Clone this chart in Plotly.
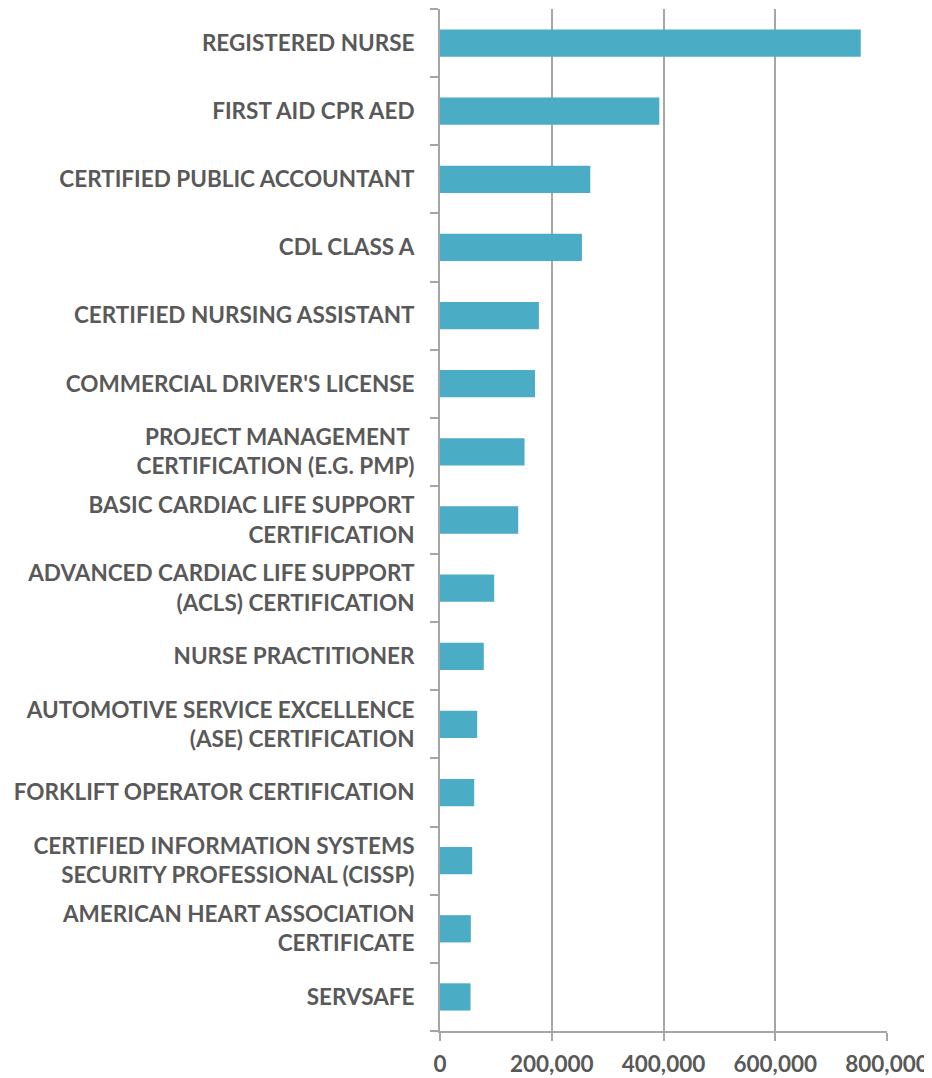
import plotly.graph_objects as go

categories = [
    "REGISTERED NURSE",
    "FIRST AID CPR AED",
    "CERTIFIED PUBLIC ACCOUNTANT",
    "CDL CLASS A",
    "CERTIFIED NURSING ASSISTANT",
    "COMMERCIAL DRIVER'S LICENSE",
    "PROJECT MANAGEMENT\u00a0<br>CERTIFICATION (E.G. PMP)",
    "BASIC CARDIAC LIFE SUPPORT<br>CERTIFICATION",
    "ADVANCED CARDIAC LIFE SUPPORT<br>(ACLS) CERTIFICATION",
    "NURSE PRACTITIONER",
    "AUTOMOTIVE SERVICE EXCELLENCE<br>(ASE) CERTIFICATION",
    "FORKLIFT OPERATOR CERTIFICATION",
    "CERTIFIED INFORMATION SYSTEMS<br>SECURITY PROFESSIONAL (CISSP)",
    "AMERICAN HEART ASSOCIATION<br>CERTIFICATE",
    "SERVSAFE",
]
values = [753000, 392500, 269000, 254000, 177000, 170000, 151300, 140000,
          97000, 78400, 66600, 61200, 57600, 55200, 54600]

x_tickvals = [0, 200000, 400000, 600000, 800000]
x_ticktext = ["0", "200,000", "400,000", "600,000", "800,000"]

font_family = "Lato, 'Open Sans', sans-serif"
text_color = "#595959"
grid_color = "#a6a6a6"
label_size = 22.5

fig = go.Figure(go.Bar(
    x=values,
    y=categories,
    orientation="h",
    marker=dict(color="#4bacc6", line=dict(width=0)),
    width=0.4,
))

# the page body adds an 8px offset, so the figure is 8px smaller each way
fig.update_layout(
    width=924,
    height=1070,
    margin=dict(l=432, r=45, t=1, b=47),
    paper_bgcolor="white",
    plot_bgcolor="white",
    showlegend=False,
    font=dict(family=font_family, size=label_size, color=text_color),
)

fig.update_xaxes(
    range=[0, 800000],
    tickvals=x_tickvals,
    ticktext=x_ticktext,
    automargin=False,
    showgrid=True,
    gridcolor=grid_color,
    gridwidth=2,
    showline=True,
    linecolor=grid_color,
    linewidth=2,
    ticks="outside",
    ticklen=8,
    tickwidth=2,
    tickcolor=grid_color,
    zeroline=False,
    ticklabelstandoff=4,
    tickfont=dict(family=font_family, size=label_size, color=text_color, weight="bold"),
)

fig.update_yaxes(
    categoryorder="array",
    categoryarray=categories[::-1],
    autorange=False,
    range=[-0.5, len(categories) - 0.5],
    automargin=False,
    showline=True,
    linecolor=grid_color,
    linewidth=2,
    ticks="outside",
    tickson="boundaries",
    ticklen=8,
    tickwidth=2,
    tickcolor=grid_color,
    showgrid=False,
    ticklabelstandoff=19,
    tickfont=dict(family=font_family, size=label_size, color=text_color, weight="bold"),
)

fig.write_html("out.html")
